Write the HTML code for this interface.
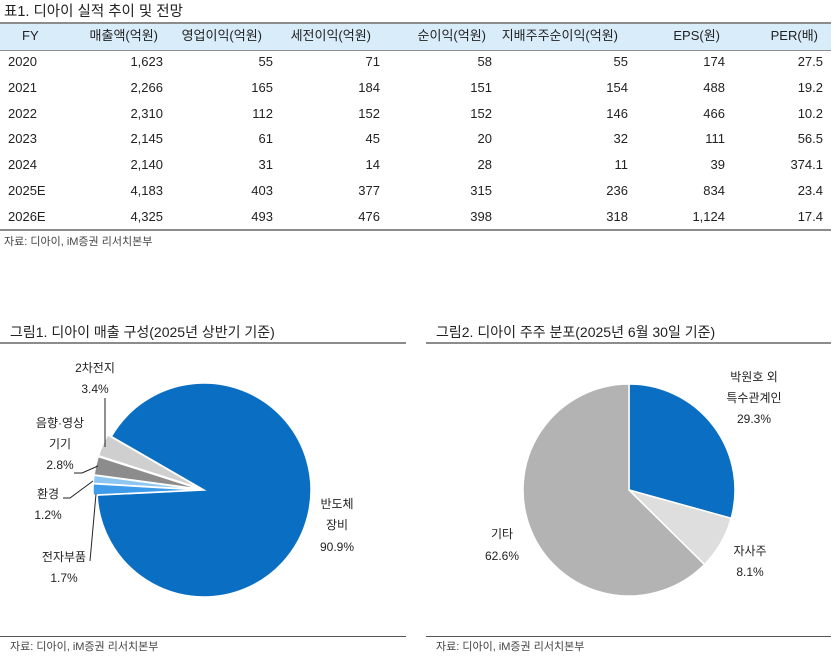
<!DOCTYPE html>
<html><head><meta charset="utf-8">
<style>
body{margin:0;width:837px;height:661px;background:#fff;font-family:"Liberation Sans","Noto Sans CJK KR",sans-serif;color:#222;position:relative;overflow:hidden}
.a{position:absolute;white-space:nowrap}
.t{font-size:13px;line-height:16px}
.r{text-align:right}
.c{text-align:center}
</style></head><body>
<div class="a" style="left:4px;top:3px;font-size:14.5px;line-height:18px">표1. 디아이 실적 추이 및 전망</div>
<div class="a" style="left:0;top:22px;width:831px;height:26px;background:#d9ecf9;border-top:2px solid #8c8c8c;border-bottom:1px solid #8c8c8c"></div>
<div class="a" style="left:0;top:229px;width:831px;height:2px;background:#8c8c8c"></div>
<div id="tbl"></div>
<div class="a" style="left:4px;top:233px;font-size:11px;color:#444">자료: 디아이, iM증권 리서치본부</div>

<div class="a" style="left:10px;top:322px;font-size:14px">그림1. 디아이 매출 구성(2025년 상반기 기준)</div>
<div class="a" style="left:0;top:342px;width:406px;height:2px;background:#8c8c8c"></div>
<div class="a" style="left:0;top:636px;width:406px;height:1px;background:#555"></div>
<div class="a" style="left:10px;top:638px;font-size:11px;color:#444">자료: 디아이, iM증권 리서치본부</div>

<div class="a" style="left:436px;top:322px;font-size:14px">그림2. 디아이 주주 분포(2025년 6월 30일 기준)</div>
<div class="a" style="left:426px;top:342px;width:405px;height:2px;background:#8c8c8c"></div>
<div class="a" style="left:426px;top:636px;width:405px;height:1px;background:#555"></div>
<div class="a" style="left:436px;top:638px;font-size:11px;color:#444">자료: 디아이, iM증권 리서치본부</div>

<svg class="a" style="left:0;top:0" width="837" height="661" id="pies"></svg>

<script>
const headers=["FY","매출액(억원)","영업이익(억원)","세전이익(억원)","순이익(억원)","지배주주순이익(억원)","EPS(원)","PER(배)"];
const years=["2020","2021","2022","2023","2024","2025E","2026E"];
const sales=["1,623","2,266","2,310","2,145","2,140","4,183","4,325"];
const op=["55","165","112","61","31","403","493"];
const pretax=["71","184","152","45","14","377","476"];
const net=["58","151","152","20","28","315","398"];
const ctrl=["55","154","146","32","11","236","318"];
const eps=["174","488","466","111","39","834","1,124"];
const per=["27.5","19.2","10.2","56.5","374.1","23.4","17.4"];
const cols=[years,sales,op,pretax,net,ctrl,eps,per];
const colRight=[0,163,273,380,492,628,725,823];
const headRight=[0,158,262,371,486,618,720,818];
const tbl=document.getElementById('tbl');
headers.forEach((h,i)=>{
  const d=document.createElement('div');d.className='a t';
  
  
  d.textContent=h;d.style.top='28px';
  if(i===0){d.style.left='22px';}else{d.style.right=(837-headRight[i])+'px';}
  tbl.appendChild(d);
});
years.forEach((y,r)=>{
  cols.forEach((col,i)=>{
    const d=document.createElement('div');d.className='a t';
    
    
    d.textContent=col[r];d.style.top=(54+r*25.8)+'px';
    if(i===0){d.style.left='8px';}else{d.style.right=(837-colRight[i])+'px';}
    tbl.appendChild(d);
  });
});

const p1Labels=["반도체 장비","전자부품","환경","음향·영상 기기","2차전지"];
const p1Values=[90.9,1.7,1.2,2.8,3.4];
const p1Colors=["#0a6fc2","#3d9be9","#8ec6f2","#8c8c8c","#cfcfcf"];
const p2Labels=["박원호 외 특수관계인","자사주","기타"];
const p2Values=[29.3,8.1,62.6];
const p2Colors=["#0a6fc2","#dedede","#b3b3b3"];

const NS='http://www.w3.org/2000/svg';
const svg=document.getElementById('pies');
function pie(cx,cy,r,vals,colors,start,explode,prefix){
  const tot=vals.reduce((a,b)=>a+b,0);let a0=start;
  vals.forEach((v,i)=>{
    const a1=a0+v/tot*360;
    const mid=(a0+a1)/2*Math.PI/180;
    const ex=explode[i]||0;
    const ox=cx+ex*Math.sin(mid),oy=cy-ex*Math.cos(mid);
    const p=(a)=>[ox+r*Math.sin(a*Math.PI/180),oy-r*Math.cos(a*Math.PI/180)];
    const [x0,y0]=p(a0),[x1,y1]=p(a1);
    const large=(a1-a0)>180?1:0;
    const path=document.createElementNS(NS,'path');
    path.setAttribute('d',`M${ox},${oy}L${x0},${y0}A${r},${r} 0 ${large} 1 ${x1},${y1}Z`);
    path.setAttribute('fill',colors[i]);path.setAttribute('stroke','#fff');path.setAttribute('stroke-width','1.5');
    
    
    svg.appendChild(path);
    a0=a1;
  });
}
pie(204,490,107,p1Values,p1Colors,300,[0,4,4,4,4],'pie1');
pie(629,490,106,p2Values,p2Colors,0,[0,0,0],'pie2');

function txt(x,y,s,name){
  const t=document.createElementNS(NS,'text');
  t.setAttribute('x',x);t.setAttribute('y',y);t.setAttribute('text-anchor','middle');
  t.setAttribute('font-size','12');t.setAttribute('fill','#222');t.textContent=s;
  
  
  svg.appendChild(t);
}
function ln(pts,name){
  const l=document.createElementNS(NS,'polyline');
  l.setAttribute('points',pts);l.setAttribute('fill','none');l.setAttribute('stroke','#222');l.setAttribute('stroke-width','1');
  
  
  svg.appendChild(l);
}
txt(95,372,"2차전지","label-battery");txt(95,393,"3.4%","value-battery");
ln("105,398 105,447","leader-battery");
txt(60,427,"음향·영상","label-av");txt(60,448,"기기","label-av-2");txt(60,469,p1Values[3].toFixed(1)+"%","value-av");
ln("74,473 82,473 98,466","leader-av");
txt(48,498,"환경","label-env");txt(48,519,p1Values[2].toFixed(1)+"%","value-env");
ln("63,498 70,498 93,481","leader-env");
txt(64,561,"전자부품","label-elec");txt(64,582,p1Values[1].toFixed(1)+"%","value-elec");
ln("90,561 96,494","leader-elec");
txt(337,508,"반도체","label-semi");txt(337,529,"장비","label-semi-2");txt(337,551,p1Values[0].toFixed(1)+"%","value-semi");

txt(754,381,"박원호 외","label-owner");txt(754,402,"특수관계인","label-owner-2");txt(754,423,p2Values[0].toFixed(1)+"%","value-owner");
txt(750,555,"자사주","label-treasury");txt(750,576,p2Values[1].toFixed(1)+"%","value-treasury");
txt(502,538,"기타","label-other");txt(502,560,p2Values[2].toFixed(1)+"%","value-other");
</script>
</body></html>
